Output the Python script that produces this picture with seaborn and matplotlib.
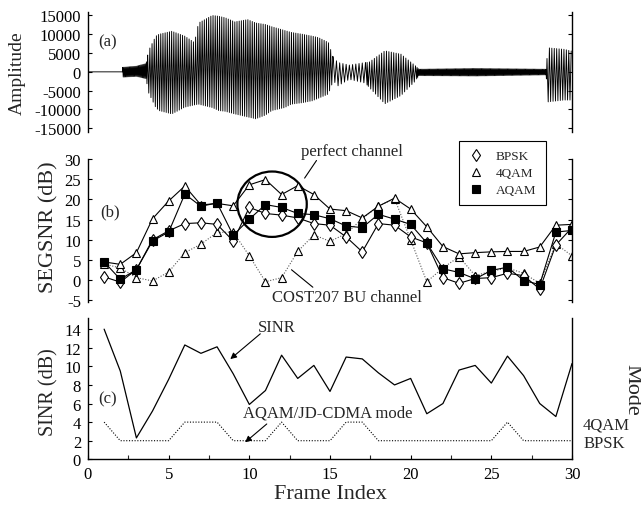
"""
Three stacked panels: speech waveform, SEGSNR per frame, SINR / AQAM mode per frame.
"""
import numpy as np
import pandas as pd
import matplotlib
matplotlib.use("Agg")
from matplotlib import pyplot
from matplotlib.lines import Line2D
from matplotlib.patches import Ellipse
import seaborn

# ---- data ----
frames = list(range(1, 31))

bpsk = [0.8, -0.5, 2.6, 10.0, 12.2, 14.0, 14.2, 13.8, 9.7, 18.0,
        16.5, 16.1, 15.4, 14.0, 13.6, 10.7, 7.0, 14.0, 13.6, 10.7,
        9.2, 0.6, -0.8, 0.4, 0.6, 1.7, 1.1, -2.2, 8.7, 13.0]
qam4_perfect = [4.5, 3.9, 6.8, 15.2, 19.6, 23.3, 18.6, 19.0, 18.4, 23.6,
                24.9, 21.2, 23.4, 21.2, 17.6, 17.2, 15.4, 18.3, 20.3, 17.6,
                13.2, 8.3, 6.5, 6.8, 7.0, 7.1, 7.1, 8.2, 13.6, 13.8]
qam4_cost207 = [4.0, 3.0, 0.6, -0.2, 2.0, 6.8, 8.9, 11.8, 11.9, 6.0,
                -0.4, 0.6, 7.1, 11.2, 9.6, 11.5, 15.2, 18.3, 20.2, 10.0,
                -0.4, 3.0, 5.8, 1.1, 2.2, 3.0, 1.7, -0.8, 9.0, 6.0]
aqam = [4.5, 0.2, 2.6, 9.7, 11.9, 21.3, 18.3, 19.1, 11.1, 15.1,
        18.7, 18.0, 16.5, 16.2, 15.2, 13.4, 13.0, 16.3, 15.1, 13.8,
        9.2, 2.8, 1.9, 0.3, 2.4, 3.2, -0.1, -1.1, 11.9, 12.3]

sinr = [14.0, 9.5, 2.3, 5.2, 8.6, 12.3, 11.4, 12.1, 9.2, 5.9,
        7.4, 11.2, 8.7, 10.1, 7.3, 11.0, 10.8, 9.3, 8.0, 8.7,
        4.9, 6.0, 9.6, 10.1, 8.2, 11.1, 9.0, 6.0, 4.6, 10.3]
mode = [4, 2, 2, 2, 2, 4, 4, 4, 2, 2,
        2, 4, 2, 2, 2, 4, 4, 2, 2, 2,
        2, 2, 2, 2, 2, 4, 2, 2, 2, 2]
mode_levels = [2, 4]
mode_names = ["BPSK", "4QAM"]

# speech waveform envelope (frame index, upper / lower peak amplitude)
env_frame = [0.0, 2.1, 2.15, 3.0, 3.6, 3.75, 4.2, 4.4, 5.2, 6.0, 6.6, 6.85,
             7.7, 8.1, 8.5, 9.1, 9.9, 10.4, 11.0, 11.4, 12.2, 12.6, 13.3,
             13.9, 14.3, 14.9, 15.2, 15.5, 16.2, 17.2, 17.4, 18.4, 19.4,
             20.3, 20.5, 24.0, 28.4, 28.5, 29.5, 30.0]
env_upper = [0, 0, 1200, 1500, 2200, 5600, 9500, 10000, 10800, 9500, 7800,
             13000, 15000, 14800, 14400, 13300, 13900, 13000, 12600, 12000,
             11000, 10500, 10000, 9500, 9100, 7800, 3800, 2500, 1800, 2500,
             2500, 5600, 4700, 1600, 700, 900, 700, 6400, 6000, 5500]
env_lower = [0, 0, -1400, -1200, -1800, -5500, -9500, -10300, -11200,
             -9400, -8800, -8600, -9500, -10300, -10500, -11200, -12000,
             -12500, -11500, -10300, -9500, -8600, -8200, -7700, -7000,
             -5900, -2400, -3700, -2000, -3000, -4000, -8500, -6300, -2400,
             -1000, -1100, -800, -8000, -7500, -7500]
# (start frame, end frame, pitch period in frames)
wave_segments = [(2.15, 3.7, 0.07), (3.7, 15.2, 0.135), (15.2, 17.3, 0.2),
                 (17.3, 20.4, 0.15), (20.4, 28.45, 0.07), (28.45, 30.0, 0.15)]


def build_waveform():
    t_list, v_list = [0.0, 2.14], [0.0, 0.0]
    for start, end, period in wave_segments:
        t = np.arange(start, end, period / 2.0)
        up = np.interp(t, env_frame, env_upper)
        lo = np.interp(t, env_frame, env_lower)
        v = np.where(np.arange(len(t)) % 2 == 0, up, lo)
        t_list.extend(t)
        v_list.extend(v)
    return pd.DataFrame({"frame": t_list, "amp": v_list})


def style_axis(ax, bottom=False):
    for side in ["top"] + ([] if bottom else ["bottom"]):
        ax.spines[side].set_visible(False)
    for side in ["left", "right", "bottom"]:
        ax.spines[side].set_color("black")
        ax.spines[side].set_linewidth(1.0)
    ax.tick_params(direction="in", length=3, width=0.8, left=True, right=True,
                   bottom=bottom, labelbottom=bottom, labelsize=12, pad=5,
                   colors="black")
    ax.set_xlim(0, 30)
    ax.set_xlabel("")


def main():
    seaborn.set_style("white")
    pyplot.rcParams["font.family"] = ["Liberation Serif", "DejaVu Serif"]
    pyplot.rcParams["axes.unicode_minus"] = False

    fig = pyplot.figure(figsize=(6.41, 5.06), dpi=100)
    W, H = 641.0, 506.0
    ax_a = fig.add_axes([88 / W, 1 - 133 / H, 484 / W, 120.3 / H])
    ax_b = fig.add_axes([88 / W, 1 - 303.3 / H, 484 / W, 143.3 / H])
    ax_c = fig.add_axes([88 / W, 1 - 460.3 / H, 484 / W, 141.3 / H])

    # (a) waveform
    wave = build_waveform()
    seaborn.lineplot(data=wave, x="frame", y="amp", ax=ax_a, color="black",
                     lw=0.65, estimator=None, sort=False)
    style_axis(ax_a)
    ax_a.set_ylim(-16000, 16000)
    ax_a.set_yticks(range(-15000, 15001, 5000))
    ax_a.set_ylabel("Amplitude", fontsize=14, va="center")
    ax_a.yaxis.set_label_coords(-0.146, 0.5)
    ax_a.text(0.64, 8200, "(a)", fontsize=12, va="center")

    # (b) SEGSNR
    mk = dict(ms=6, mew=0.8, mec="black", lw=0.8)
    seaborn.lineplot(x=frames, y=qam4_cost207, ax=ax_b, color="0.35",
                     ls=(0, (1, 1.5)), marker="^", mfc="white", **mk)
    seaborn.lineplot(x=frames, y=bpsk, ax=ax_b, color="black", marker="d",
                     mfc="white", **mk)
    seaborn.lineplot(x=frames, y=qam4_perfect, ax=ax_b, color="black",
                     marker="^", mfc="white", **mk)
    seaborn.lineplot(x=frames, y=aqam, ax=ax_b, color="black", marker="s",
                     mfc="black", **mk)
    style_axis(ax_b)
    ax_b.set_ylim(-5.5, 30)
    ax_b.set_yticks(range(-5, 31, 5))
    ax_b.set_ylabel("SEGSNR (dB)", fontsize=16, va="center")
    ax_b.yaxis.set_label_coords(-0.081, 0.53)
    ax_b.text(0.77, 17.1, "(b)", fontsize=12, va="center")
    ax_b.add_patch(Ellipse((11.41, 18.8), 4.3, 16.2, fill=False,
                           ec="black", lw=1.6, clip_on=False))
    ax_b.text(13.2, 31.9, "perfect channel", fontsize=12, va="center")
    ax_b.annotate("", xy=(13.33, 24.7), xytext=(14.26, 30.2),
                  arrowprops=dict(arrowstyle="-", lw=0.8, color="black"),
                  annotation_clip=False)
    ax_b.text(11.42, -4.15, "COST207 BU channel", fontsize=12, va="center")
    ax_b.annotate("", xy=(12.48, 3.0), xytext=(14.07, -2.2),
                  arrowprops=dict(arrowstyle="-", lw=0.8, color="black"),
                  annotation_clip=False)
    handles = [
        Line2D([], [], ls="none", marker="d", mfc="white", mec="black", ms=6, mew=0.8),
        Line2D([], [], ls="none", marker="^", mfc="white", mec="black", ms=6, mew=0.8),
        Line2D([], [], ls="none", marker="s", mfc="black", mec="black", ms=6, mew=0.8),
    ]
    leg = ax_b.legend(handles, ["BPSK", "4QAM", "AQAM"], loc="upper left",
                      bbox_to_anchor=(459 / W, 1 - 142 / H),
                      bbox_transform=fig.transFigure, borderaxespad=0,
                      fontsize=9.5, frameon=True, fancybox=False,
                      edgecolor="black", framealpha=1, handlelength=1.2,
                      handletextpad=0.9, labelspacing=0.35, borderpad=0.7)
    leg.get_frame().set_linewidth(0.8)

    # (c) SINR and mode
    seaborn.lineplot(x=frames, y=sinr, ax=ax_c, color="black", lw=0.9)
    seaborn.lineplot(x=frames, y=mode, ax=ax_c, color="black", lw=0.8,
                     ls=(0, (1, 1.5)))
    style_axis(ax_c, bottom=True)
    ax_c.set_ylim(0, 15.2)
    ax_c.set_yticks(range(0, 15, 2))
    ax_c.set_xticks(range(0, 31, 5))
    ax_c.set_xticks(np.arange(2.5, 30, 5), minor=True)
    ax_c.tick_params(which="minor", direction="in", length=3, width=0.8,
                     bottom=True, left=False, right=False)
    ax_c.set_ylabel("SINR (dB)", fontsize=14.5, va="center")
    ax_c.yaxis.set_label_coords(-0.081, 0.48)
    ax_c.set_xlabel("Frame Index", fontsize=16, labelpad=1)
    ax_c.text(0.64, 6.5, "(c)", fontsize=12, va="center")
    ax_c.text(10.55, 14.2, "SINR", fontsize=12, va="center")
    ax_c.annotate("", xy=(8.82, 10.78), xytext=(10.68, 13.5),
                  arrowprops=dict(arrowstyle="-|>", lw=0.8, color="black",
                                  mutation_scale=9, shrinkA=0, shrinkB=0))
    ax_c.text(9.62, 5.05, "AQAM/JD-CDMA mode", fontsize=12, va="center")
    ax_c.annotate("", xy=(9.74, 1.83), xytext=(11.08, 3.8),
                  arrowprops=dict(arrowstyle="-|>", lw=0.8, color="black",
                                  mutation_scale=9, shrinkA=0, shrinkB=0))

    ax_m = ax_c.twinx()
    ax_m.set_ylim(0, 15.2)
    ax_m.set_yticks(mode_levels)
    ax_m.set_yticklabels(mode_names)
    ax_m.tick_params(length=0, labelsize=12, pad=8)
    for side in ["top", "left", "bottom", "right"]:
        ax_m.spines[side].set_visible(False)
    ax_m.set_ylabel("Mode", fontsize=16, rotation=270, va="center")
    ax_m.yaxis.set_label_coords(1.124, 0.5)

    fig.savefig("out.png", dpi=100)


if __name__ == "__main__":
    main()
